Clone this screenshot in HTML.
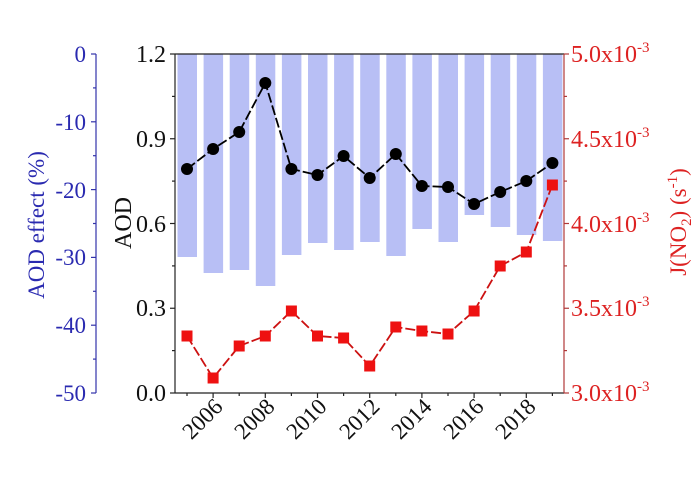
<!DOCTYPE html>
<html><head><meta charset="utf-8"><style>
html,body{margin:0;padding:0;background:#fff;}
svg{display:block;}
text{font-family:"Liberation Serif","Times New Roman",serif;}
</style></head><body>
<svg width="700" height="488" viewBox="0 0 700 488" xmlns="http://www.w3.org/2000/svg" font-family="Liberation Serif, serif">
<g fill="#b8bff5">
<rect x="177.5" y="54" width="19.5" height="203"/>
<rect x="203.6" y="54" width="19.5" height="219"/>
<rect x="229.7" y="54" width="19.5" height="216"/>
<rect x="255.8" y="54" width="19.5" height="232"/>
<rect x="281.9" y="54" width="19.5" height="201"/>
<rect x="308.0" y="54" width="19.5" height="189"/>
<rect x="334.1" y="54" width="19.5" height="196"/>
<rect x="360.2" y="54" width="19.5" height="188"/>
<rect x="386.3" y="54" width="19.5" height="202"/>
<rect x="412.4" y="54" width="19.5" height="175"/>
<rect x="438.5" y="54" width="19.5" height="188"/>
<rect x="464.6" y="54" width="19.5" height="161"/>
<rect x="490.7" y="54" width="19.5" height="173"/>
<rect x="516.8" y="54" width="19.5" height="181"/>
<rect x="542.9" y="54" width="19.5" height="187"/>
</g>
<line x1="175" y1="54" x2="564" y2="54" stroke="#222" stroke-width="1.2"/>
<line x1="175" y1="54" x2="175" y2="393" stroke="#222" stroke-width="1.2"/>
<line x1="175" y1="393" x2="564" y2="393" stroke="#222" stroke-width="1.2"/>
<line x1="564" y1="54" x2="564" y2="393" stroke="#b03838" stroke-width="1.2"/>
<g stroke="#222" stroke-width="1.2">
<line x1="175" y1="54" x2="170" y2="54"/><line x1="175" y1="138.75" x2="170" y2="138.75"/><line x1="175" y1="223.5" x2="170" y2="223.5"/><line x1="175" y1="308.25" x2="170" y2="308.25"/><line x1="175" y1="393" x2="170" y2="393"/>
<line x1="175" y1="96.4" x2="172" y2="96.4"/><line x1="175" y1="181.1" x2="172" y2="181.1"/><line x1="175" y1="265.9" x2="172" y2="265.9"/><line x1="175" y1="350.6" x2="172" y2="350.6"/>
</g>
<g font-size="24" fill="#111" text-anchor="end">
<text x="166" y="62">1.2</text><text x="166" y="147">0.9</text><text x="166" y="232">0.6</text><text x="166" y="316">0.3</text><text x="166" y="401">0.0</text>
</g>
<text transform="translate(131,223) rotate(-90)" font-size="24" fill="#111" text-anchor="middle">AOD</text>
<line x1="96" y1="54" x2="96" y2="393" stroke="#3333aa" stroke-width="1.2"/>
<g stroke="#3333aa" stroke-width="1.2">
<line x1="96" y1="54" x2="91" y2="54"/><line x1="96" y1="121.8" x2="91" y2="121.8"/><line x1="96" y1="189.6" x2="91" y2="189.6"/><line x1="96" y1="257.4" x2="91" y2="257.4"/><line x1="96" y1="325.2" x2="91" y2="325.2"/><line x1="96" y1="393" x2="91" y2="393"/>
<line x1="96" y1="87.9" x2="93" y2="87.9"/><line x1="96" y1="155.7" x2="93" y2="155.7"/><line x1="96" y1="223.5" x2="93" y2="223.5"/><line x1="96" y1="291.3" x2="93" y2="291.3"/><line x1="96" y1="359.1" x2="93" y2="359.1"/>
</g>
<g font-size="23" fill="#2a2ab0" text-anchor="end">
<text x="86" y="62">0</text><text x="86" y="130">-10</text><text x="86" y="198">-20</text><text x="86" y="265">-30</text><text x="86" y="333">-40</text><text x="86" y="401">-50</text>
</g>
<text transform="translate(44,225) rotate(-90)" font-size="23" fill="#2a2ab0" text-anchor="middle">AOD effect (%)</text>
<g stroke="#b03838" stroke-width="1.2">
<line x1="564" y1="54" x2="569" y2="54"/><line x1="564" y1="138.75" x2="569" y2="138.75"/><line x1="564" y1="223.5" x2="569" y2="223.5"/><line x1="564" y1="308.25" x2="569" y2="308.25"/><line x1="564" y1="393" x2="569" y2="393"/>
<line x1="564" y1="96.4" x2="567" y2="96.4"/><line x1="564" y1="181.1" x2="567" y2="181.1"/><line x1="564" y1="265.9" x2="567" y2="265.9"/><line x1="564" y1="350.6" x2="567" y2="350.6"/>
</g>
<g font-size="24" fill="#dd2222">
<text x="571" y="62">5.0x10<tspan font-size="15" dy="-10">-3</tspan></text>
<text x="571" y="147">4.5x10<tspan font-size="15" dy="-10">-3</tspan></text>
<text x="571" y="232">4.0x10<tspan font-size="15" dy="-10">-3</tspan></text>
<text x="571" y="316">3.5x10<tspan font-size="15" dy="-10">-3</tspan></text>
<text x="571" y="401">3.0x10<tspan font-size="15" dy="-10">-3</tspan></text>
</g>
<text transform="translate(686,222) rotate(-90)" font-size="23" fill="#dd2222" text-anchor="middle">J(NO<tspan font-size="15" dy="5">2</tspan><tspan dy="-5">) (s</tspan><tspan font-size="15" dy="-9">-1</tspan><tspan dy="9">)</tspan></text>
<g stroke="#222" stroke-width="1.2">
<line x1="187" y1="393" x2="187" y2="396"/><line x1="213.1" y1="393" x2="213.1" y2="398"/><line x1="239.2" y1="393" x2="239.2" y2="396"/><line x1="265.3" y1="393" x2="265.3" y2="398"/><line x1="291.4" y1="393" x2="291.4" y2="396"/><line x1="317.5" y1="393" x2="317.5" y2="398"/><line x1="343.6" y1="393" x2="343.6" y2="396"/><line x1="369.7" y1="393" x2="369.7" y2="398"/><line x1="395.8" y1="393" x2="395.8" y2="396"/><line x1="421.9" y1="393" x2="421.9" y2="398"/><line x1="448" y1="393" x2="448" y2="396"/><line x1="474.1" y1="393" x2="474.1" y2="398"/><line x1="500.2" y1="393" x2="500.2" y2="396"/><line x1="526.3" y1="393" x2="526.3" y2="398"/><line x1="552.4" y1="393" x2="552.4" y2="396"/>
</g>
<g font-size="23" fill="#111" text-anchor="end">
<text transform="translate(224,408) rotate(-45)">2006</text>
<text transform="translate(276,408) rotate(-45)">2008</text>
<text transform="translate(328,408) rotate(-45)">2010</text>
<text transform="translate(381,408) rotate(-45)">2012</text>
<text transform="translate(433,408) rotate(-45)">2014</text>
<text transform="translate(485,408) rotate(-45)">2016</text>
<text transform="translate(537,408) rotate(-45)">2018</text>
</g>
<polyline fill="none" stroke="#000" stroke-width="1.8" stroke-dasharray="10,3" points="187,169 213.1,149 239.2,132 265.3,83 291.4,169 317.5,175 343.6,156 369.7,178 395.8,154 421.9,186 448,187 474.1,204 500.2,192 526.3,181 552.4,163"/>
<g fill="#000">
<circle cx="187" cy="169" r="6"/><circle cx="213.1" cy="149" r="6"/><circle cx="239.2" cy="132" r="6"/><circle cx="265.3" cy="83" r="6"/><circle cx="291.4" cy="169" r="6"/><circle cx="317.5" cy="175" r="6"/><circle cx="343.6" cy="156" r="6"/><circle cx="369.7" cy="178" r="6"/><circle cx="395.8" cy="154" r="6"/><circle cx="421.9" cy="186" r="6"/><circle cx="448" cy="187" r="6"/><circle cx="474.1" cy="204" r="6"/><circle cx="500.2" cy="192" r="6"/><circle cx="526.3" cy="181" r="6"/><circle cx="552.4" cy="163" r="6"/>
</g>
<polyline fill="none" stroke="#cc1111" stroke-width="1.8" stroke-dasharray="10,3" points="187,336 213.1,378 239.2,346 265.3,336 291.4,311 317.5,336 343.6,338 369.7,366 395.8,327 421.9,331 448,334 474.1,311 500.2,266 526.3,252 552.4,185"/>
<g fill="#ee1111">
<rect x="181.5" y="330.5" width="11" height="11"/><rect x="207.6" y="372.5" width="11" height="11"/><rect x="233.7" y="340.5" width="11" height="11"/><rect x="259.8" y="330.5" width="11" height="11"/><rect x="285.9" y="305.5" width="11" height="11"/><rect x="312" y="330.5" width="11" height="11"/><rect x="338.1" y="332.5" width="11" height="11"/><rect x="364.2" y="360.5" width="11" height="11"/><rect x="390.3" y="321.5" width="11" height="11"/><rect x="416.4" y="325.5" width="11" height="11"/><rect x="442.5" y="328.5" width="11" height="11"/><rect x="468.6" y="305.5" width="11" height="11"/><rect x="494.7" y="260.5" width="11" height="11"/><rect x="520.8" y="246.5" width="11" height="11"/><rect x="546.9" y="179.5" width="11" height="11"/>
</g>
</svg>
</body></html>
